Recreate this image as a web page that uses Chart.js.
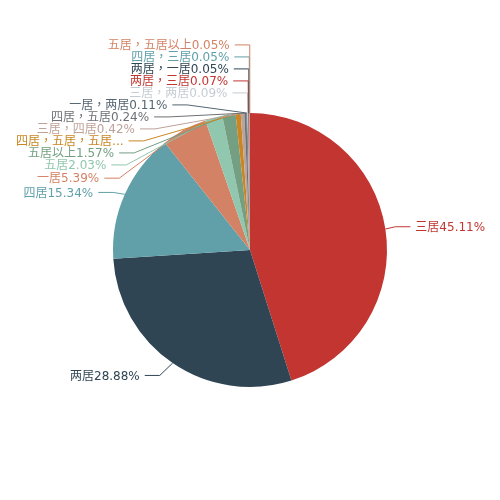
<!DOCTYPE html>
<html>
<head>
<meta charset="utf-8">
<script src="https://cdn.jsdelivr.net/npm/chart.js@4"></script>
<style>
  html, body { margin: 0; background: #fff; }
  #wrap { width: 500px; height: 500px; }
</style>
</head>
<body>
<div id="wrap"><canvas id="c"></canvas></div>
<script>
// 户型占比
const categories = ['三居', '两居', '四居', '一居', '五居', '五居以上', '四居，五居，五居以上',
  '三居，四居', '四居，五居', '一居，两居', '三居，两居', '两居，三居', '两居，一居', '四居，三居', '五居，五居以上'];
const shares = [45.11, 28.88, 15.34, 5.39, 2.03, 1.57, 0.60, 0.42, 0.24, 0.11, 0.09, 0.07, 0.05, 0.05, 0.05];
const palette = ['#c23531', '#2f4554', '#61a0a8', '#d48265', '#91c7ae', '#749f83', '#ca8622',
  '#bda29a', '#6e7074', '#546570', '#c4ccd3'];

const colors = categories.map((_, i) => palette[i % palette.length]);

// outside labels with leader lines, spread so they don't overlap
const pieLabels = {
  id: 'pieLabels',
  afterDatasetsDraw(chart) {
    const ctx = chart.ctx;
    const arcs = chart.getDatasetMeta(0).data;
    const len1 = 15, len2 = 15, gap = 5, lineH = 12, bleed = 10;
    const H = chart.height;
    ctx.save();
    ctx.font = '12px "DejaVu Sans", "Noto Sans CJK TC", sans-serif';
    let cx = 0, cy = 0, r = 0;
    const items = arcs.map((arc, i) => {
      cx = arc.x; cy = arc.y; r = arc.outerRadius;
      const mid = (arc.startAngle + arc.endAngle) / 2;
      const dx = Math.cos(mid), dy = Math.sin(mid);
      const x1 = cx + r * dx, y1 = cy + r * dy;
      const x2 = x1 + dx * len1, y2 = y1 + dy * len1;
      const x3 = x2 + (dx < 0 ? -1 : 1) * len2;
      return {
        i, x: x3 + (dx < 0 ? -gap : gap), y: y2, height: lineH,
        pts: [[x1, y1], [x2, y2], [x3, y2]],
        text: categories[i] + shares[i].toFixed(2) + '%'
      };
    });

    function adjustSide(list, dir) {
      list.sort((a, b) => a.y - b.y);
      function shiftUp(end, delta) {
        for (let j = end; j >= 0; j--) {
          if (list[j].y - delta < 0) break;
          list[j].y -= delta;
          if (j > 0 && list[j].y > list[j - 1].y + list[j - 1].height) break;
        }
      }
      function shiftDown(start, end, delta) {
        for (let j = start; j < end; j++) {
          if (list[j].y + delta > H) break;
          list[j].y += delta;
          if (j > start && j + 1 < end && list[j + 1].y > list[j].y + list[j].height) {
            shiftUp(j, delta / 2);
            return;
          }
        }
        shiftUp(end - 1, delta / 2);
      }
      function changeX(sub, isDown) {
        let last = isDown ? Number.MAX_VALUE : 0;
        sub.forEach(it => {
          const dY = Math.abs(it.y - cy);
          let dX = dY < r + len1
            ? Math.sqrt((r + len1 + len2) ** 2 - dY * dY)
            : Math.abs(it.x - cx);
          if (isDown && dX >= last) dX = last - 10;
          if (!isDown && dX <= last) dX = last + 10;
          it.x = cx + dX * dir;
          last = dX;
        });
      }
      let lastY = 0;
      for (let i = 0; i < list.length; i++) {
        const delta = list[i].y - lastY;
        if (delta < 0) shiftDown(i, list.length, -delta);
        lastY = list[i].y + list[i].height;
      }
      if (H - lastY < 0) shiftUp(list.length - 1, lastY - H);
      changeX(list.filter(it => it.y < cy), false);
      changeX(list.filter(it => it.y >= cy), true);
    }

    adjustSide(items.filter(it => it.x >= cx), 1);
    adjustSide(items.filter(it => it.x < cx), -1);

    items.forEach(it => {
      const left = it.x < cx;
      const room = left ? it.x - bleed : chart.width - it.x - bleed;
      let text = it.text;
      if (ctx.measureText(text).width > room) {
        let n = text.length;
        while (n > 0 && ctx.measureText(text.slice(0, n) + '...').width > room) n--;
        text = text.slice(0, n) + '...';
      }
      const p = it.pts;
      const dist = p[1][0] - p[2][0];
      p[2][0] = left ? it.x + gap : it.x - gap;
      p[1][0] = p[2][0] + dist;
      p[1][1] = p[2][1] = it.y;

      const col = colors[it.i];
      ctx.strokeStyle = col;
      ctx.lineWidth = 1;
      ctx.beginPath();
      ctx.moveTo(p[0][0], p[0][1]);
      ctx.lineTo(p[1][0], p[1][1]);
      ctx.lineTo(p[2][0], p[2][1]);
      ctx.stroke();

      ctx.fillStyle = col;
      ctx.textAlign = left ? 'right' : 'left';
      ctx.textBaseline = 'middle';
      ctx.fillText(text, it.x, it.y + 1);
    });
    ctx.restore();
  }
};

new Chart(document.getElementById('c'), {
  type: 'pie',
  data: {
    labels: categories,
    datasets: [{
      data: shares,
      backgroundColor: colors,
      borderWidth: 0,
      radius: 137
    }]
  },
  options: {
    responsive: true,
    maintainAspectRatio: false,
    animation: false,
    plugins: { legend: { display: false }, tooltip: { enabled: false } }
  },
  plugins: [pieLabels]
});
</script>
</body>
</html>
